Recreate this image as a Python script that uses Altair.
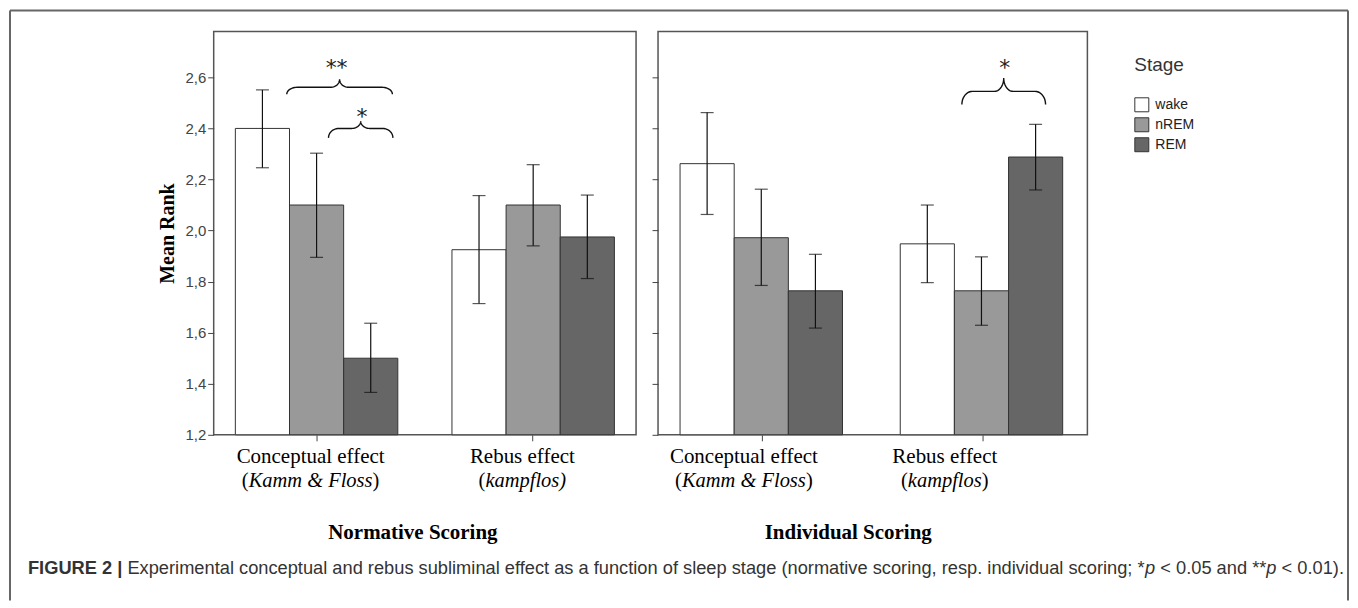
import altair as alt
import numpy as np
import pandas as pd

# ---------------- data ----------------
STAGES = ["wake", "nREM", "REM"]
STAGE_COLORS = ["#ffffff", "#999999", "#666666"]
GROUPS = ["Conceptual effect", "Rebus effect"]
PANELS = ["Normative Scoring", "Individual Scoring"]

# order: Conceptual(wake, nREM, REM), Rebus(wake, nREM, REM)
NORM_MEAN = [2.400, 2.100, 1.500, 1.925, 2.100, 1.975]
NORM_LO = [2.246, 1.895, 1.366, 1.714, 1.940, 1.812]
NORM_HI = [2.551, 2.303, 1.637, 2.137, 2.258, 2.139]
IND_MEAN = [2.262, 1.972, 1.764, 1.948, 1.764, 2.288]
IND_LO = [2.063, 1.785, 1.618, 1.796, 1.629, 2.159]
IND_HI = [2.462, 2.162, 1.907, 2.100, 1.897, 2.416]

Y_MIN, Y_MAX = 1.2, 2.78
Y_TICKS = [1.2, 1.4, 1.6, 1.8, 2.0, 2.2, 2.4, 2.6]

# category labels: first line, and second line as (upright prefix, italic body, upright suffix)
NORM_SUB = [("(", "Kamm & Floss", ")"), ("(", "kampflos)", "")]
IND_SUB = [("(", "Kamm & Floss", ")"), ("(", "kampflos", ")")]
# label centres, in bar-width units from the panel's left edge (as printed, left of the ticks)
NORM_LABEL_X = [1.79, 5.70]
IND_LABEL_X = [1.56, 5.21]

# significance braces: x in bar-width units from the panel's left edge, y in Mean Rank units
NORM_BRACE_X0 = [1.35, 2.12]
NORM_BRACE_X1 = [3.30, 3.31]
NORM_BRACE_YEND = [2.534, 2.363]
NORM_BRACE_YMID = [2.561, 2.400]
NORM_BRACE_YTOP = [2.592, 2.428]
IND_BRACE_X0 = [5.52]
IND_BRACE_X1 = [7.04]
IND_BRACE_YEND = [2.494]
IND_BRACE_YMID = [2.545]
IND_BRACE_YTOP = [2.597]

NORM_STARS = ["**", "*"]
NORM_STAR_X = [2.27, 2.74]
NORM_STAR_Y = [2.66, 2.47]
IND_STARS = ["*"]
IND_STAR_X = [6.30]
IND_STAR_Y = [2.66]

CAPTION = [
    ("FIGURE 2 |", "bold"),
    (" Experimental conceptual and rebus subliminal effect as a function of sleep stage "
     "(normative scoring, resp. individual scoring; *", "normal"),
    ("p", "italic"),
    (" < 0.05 and **", "normal"),
    ("p", "italic"),
    (" < 0.01).", "normal"),
]

# ---------------- layout / style ----------------
SERIF = "Liberation Serif"
SANS = "Liberation Sans"
LEFT_W, RIGHT_W, H = 423, 430, 404
PANEL_GAP = 22
BAR_UNITS = 7.8   # panel width in bar widths (band padding 0.25 inner / 0.1 outer)
LAB1_SIZE, LAB2_SIZE = 21, 20.5
# frame and caption, relative to the left panel's plot origin
FRAME_L, FRAME_R, FRAME_T, FRAME_B = -204, 1136, -21, 570
CAP_X, CAP_Y, CAP_TARGET_W = -186, 538, 1318

TIMES_IT = {"K": .667, "a": .5, "m": .722, " ": .25, "&": .778, "F": .611, "l": .278,
            "o": .5, "s": .389, "k": .444, "p": .5, "f": .278, ")": .333, "(": .333}
TIMES_UP = {"(": .333, ")": .333}
ARIAL = {" ": .278, "(": .333, ")": .333, "*": .389, ",": .278, ".": .278, ";": .278,
         "<": .584, "|": .26, "E": .667,
         "a": .556, "b": .556, "c": .5, "d": .556, "e": .556, "f": .278, "g": .556,
         "h": .556, "i": .222, "j": .222, "k": .5, "l": .222, "m": .833, "n": .556,
         "o": .556, "p": .556, "q": .556, "r": .333, "s": .5, "t": .278, "u": .556,
         "v": .5, "w": .722, "x": .5, "y": .5, "z": .5}
ARIAL_B = {"F": .611, "I": .278, "G": .778, "U": .722, "R": .722, "E": .667, " ": .278,
           "|": .28}


def text_em(s, table):
    return sum(table.get(c, .556) for c in s)


def brace_df(x0s, x1s, yends, ymids, ytops, r_end=0.19, r_mid=0.17, n=14):
    rows = []
    t = np.linspace(0, np.pi / 2, n)
    for b, (x0, x1, ye, ym, yt) in enumerate(zip(x0s, x1s, yends, ymids, ytops)):
        xc = (x0 + x1) / 2
        ax = x0 + r_end - r_end * np.cos(t)
        ay = ye + (ym - ye) * np.sin(t)
        bx = xc - r_mid + r_mid * np.sin(t)
        by = yt - (yt - ym) * np.cos(t)
        lx = np.concatenate([ax, bx])
        ly = np.concatenate([ay, by])
        xs = np.concatenate([lx, (2 * xc - lx)[::-1]])
        ys = np.concatenate([ly, ly[::-1]])
        for i, (xx, yy) in enumerate(zip(xs, ys)):
            rows.append({"brace": b, "ord": i, "bx": xx, "by": yy})
    return pd.DataFrame(rows)


def sub_df(subs, centers, width):
    px_per_unit = width / BAR_UNITS
    rows = []
    for center, (pre, body, suf) in zip(centers, subs):
        w_pre = text_em(pre, TIMES_UP) * LAB2_SIZE / px_per_unit
        w_body = text_em(body, TIMES_IT) * LAB2_SIZE / px_per_unit
        w_suf = text_em(suf, TIMES_UP) * LAB2_SIZE / px_per_unit
        start = center - (w_pre + w_body + w_suf) / 2
        if pre:
            rows.append({"sx": start, "txt": pre, "style": "up"})
        rows.append({"sx": start + w_pre, "txt": body, "style": "it"})
        if suf:
            rows.append({"sx": start + w_pre + w_body, "txt": suf, "style": "up"})
    return pd.DataFrame(rows)


def frame_and_caption():
    dummy = pd.DataFrame({"a": [0]})
    layers = [
        alt.Chart(dummy).mark_rule(color="#666", strokeWidth=2).encode(
            x=alt.value(FRAME_L), x2=alt.value(FRAME_R), y=alt.value(FRAME_T)),
        alt.Chart(dummy).mark_rule(color="#666", strokeWidth=2).encode(
            x=alt.value(FRAME_L), y=alt.value(FRAME_T), y2=alt.value(FRAME_B)),
        alt.Chart(dummy).mark_rule(color="#666", strokeWidth=2).encode(
            x=alt.value(FRAME_R), y=alt.value(FRAME_T), y2=alt.value(FRAME_B)),
    ]
    cap_em = sum(text_em(t, ARIAL_B if s == "bold" else ARIAL) for t, s in CAPTION)
    size = CAP_TARGET_W / cap_em
    xpos = float(CAP_X)
    for txt, sty in CAPTION:
        table = ARIAL_B if sty == "bold" else ARIAL
        stripped = txt.lstrip(" ")
        lead = txt[: len(txt) - len(stripped)]
        xpos += text_em(lead, table) * size
        kw = dict(font=SANS, fontSize=size, align="left", baseline="middle", color="#333")
        if sty == "bold":
            kw["fontWeight"] = "bold"
        if sty == "italic":
            kw["fontStyle"] = "italic"
        layers.append(alt.Chart(dummy).mark_text(text=stripped.rstrip(" "), **kw).encode(
            x=alt.value(xpos), y=alt.value(CAP_Y)))
        xpos += text_em(stripped, table) * size
    return layers


def panel(mean, lo, hi, subs, label_x, braces, stars, star_x, star_y, width, title,
          title_x, show_labels, legend, extra=()):
    df = pd.DataFrame({
        "group": [g for g in GROUPS for _ in STAGES],
        "stage": STAGES * len(GROUPS),
        "mean": mean, "lo": lo, "hi": hi,
    })
    yscale = alt.Scale(domain=[Y_MIN, Y_MAX], nice=False, zero=False)
    xscale = alt.Scale(paddingInner=0.25, paddingOuter=0.1)
    xoff = alt.XOffset("stage:N", sort=STAGES, scale=alt.Scale(paddingInner=0, paddingOuter=0))

    x_axis = alt.Axis(
        title=title, titleFont=SERIF, titleFontSize=21, titleFontWeight="bold",
        titleColor="black", titleX=title_x, titleY=98, titleBaseline="middle",
        titleAlign="center", labels=False, tickSize=6, tickColor="#444", domain=False,
    )
    if show_labels:
        y_axis = alt.Axis(
            values=Y_TICKS, labelExpr="replace(format(datum.value, '.1f'), '.', ',')",
            labelFont=SANS, labelFontSize=15, labelColor="#444", labelPadding=2,
            tickSize=6, tickColor="#444", domain=False, grid=False,
            title="Mean Rank", titleFont=SERIF, titleFontSize=20, titleFontWeight="bold",
            titleColor="black", titleX=-46, titleY=H / 2, titleAngle=270,
            titleBaseline="middle", titleAlign="center",
        )
    else:
        y_axis = alt.Axis(values=Y_TICKS, labels=False, tickSize=6, tickColor="#444",
                          domain=False, grid=False, title="")

    def Y(field):
        return alt.Y(field, scale=yscale, axis=y_axis)

    xband = alt.X("group:N", sort=GROUPS, scale=xscale, axis=x_axis)

    base = alt.Chart(df)
    bars = base.mark_bar(stroke="#333", strokeWidth=1).encode(
        x=xband, xOffset=xoff, y=Y("mean:Q"), y2=alt.Y2(datum=Y_MIN),
        color=alt.Color("stage:N", sort=STAGES,
                        scale=alt.Scale(domain=STAGES, range=STAGE_COLORS), legend=legend),
    )
    rules = base.mark_rule(color="#111", strokeWidth=1.2).encode(
        x=xband, xOffset=xoff, y=Y("lo:Q"), y2="hi:Q")
    cap_lo = base.mark_tick(color="#111", thickness=1.2, size=13).encode(
        x=xband, xOffset=xoff, y=Y("lo:Q"))
    cap_hi = base.mark_tick(color="#111", thickness=1.2, size=13).encode(
        x=xband, xOffset=xoff, y=Y("hi:Q"))
    inner = alt.layer(bars, rules, cap_lo, cap_hi)

    uscale = alt.Scale(domain=[0, BAR_UNITS], nice=False, zero=False)
    UX = lambda f: alt.X(f, scale=uscale, axis=None)
    bdf = brace_df(*braces)
    brace_lines = alt.Chart(bdf).mark_line(color="#111", strokeWidth=1.4).encode(
        x=UX("bx:Q"), y=Y("by:Q"), detail="brace:N", order="ord:Q")
    sdf = pd.DataFrame({"sx": star_x, "sy": star_y, "txt": stars})
    star_text = alt.Chart(sdf).mark_text(
        font="DejaVu Sans", fontSize=22, baseline="alphabetic", dy=13, color="#222"
    ).encode(x=UX("sx:Q"), y=Y("sy:Q"), text="txt:N")
    l1df = pd.DataFrame({"lx": label_x, "txt": GROUPS})
    lab1 = alt.Chart(l1df).mark_text(
        font=SERIF, fontSize=LAB1_SIZE, align="center", baseline="middle", color="black"
    ).encode(x=UX("lx:Q"), y=alt.value(H + 22), text="txt:N")
    ldf = sub_df(subs, label_x, width)
    sub_up = alt.Chart(ldf).transform_filter(alt.datum.style == "up").mark_text(
        font=SERIF, fontSize=LAB2_SIZE, align="left", baseline="middle", color="black"
    ).encode(x=UX("sx:Q"), y=alt.value(H + 46), text="txt:N")
    sub_it = alt.Chart(ldf).transform_filter(alt.datum.style == "it").mark_text(
        font=SERIF, fontSize=LAB2_SIZE, fontStyle="italic", align="left", baseline="middle",
        color="black"
    ).encode(x=UX("sx:Q"), y=alt.value(H + 46), text="txt:N")
    annot = alt.layer(brace_lines, star_text, lab1, sub_up, sub_it, *extra)

    return alt.layer(inner, annot).resolve_scale(x="independent").properties(
        width=width, height=H)


left = panel(NORM_MEAN, NORM_LO, NORM_HI, NORM_SUB, NORM_LABEL_X,
             (NORM_BRACE_X0, NORM_BRACE_X1, NORM_BRACE_YEND, NORM_BRACE_YMID, NORM_BRACE_YTOP),
             NORM_STARS, NORM_STAR_X, NORM_STAR_Y, LEFT_W, PANELS[0], 199, True, None,
             extra=frame_and_caption())
right = panel(IND_MEAN, IND_LO, IND_HI, IND_SUB, IND_LABEL_X,
              (IND_BRACE_X0, IND_BRACE_X1, IND_BRACE_YEND, IND_BRACE_YMID, IND_BRACE_YTOP),
              IND_STARS, IND_STAR_X, IND_STAR_Y, RIGHT_W, PANELS[1], 190, False,
              alt.Legend(title="Stage", orient="none", legendX=477, legendY=25,
                         symbolType="square", symbolSize=196, symbolStrokeColor="#333",
                         symbolStrokeWidth=1, labelFont=SANS, labelFontSize=14,
                         labelColor="#222", labelOffset=6, titleFont=SANS, titleFontSize=19,
                         titleFontWeight="normal", titleColor="#333", titlePadding=22,
                         rowPadding=1))

chart = alt.hconcat(left, right, spacing=PANEL_GAP, bounds="flush").resolve_legend(
    color="independent"
).properties(padding=0, background="white").configure_view(stroke="#555", strokeWidth=1.5)

chart.save("out.html", embed_options={"renderer": "svg", "actions": False})
